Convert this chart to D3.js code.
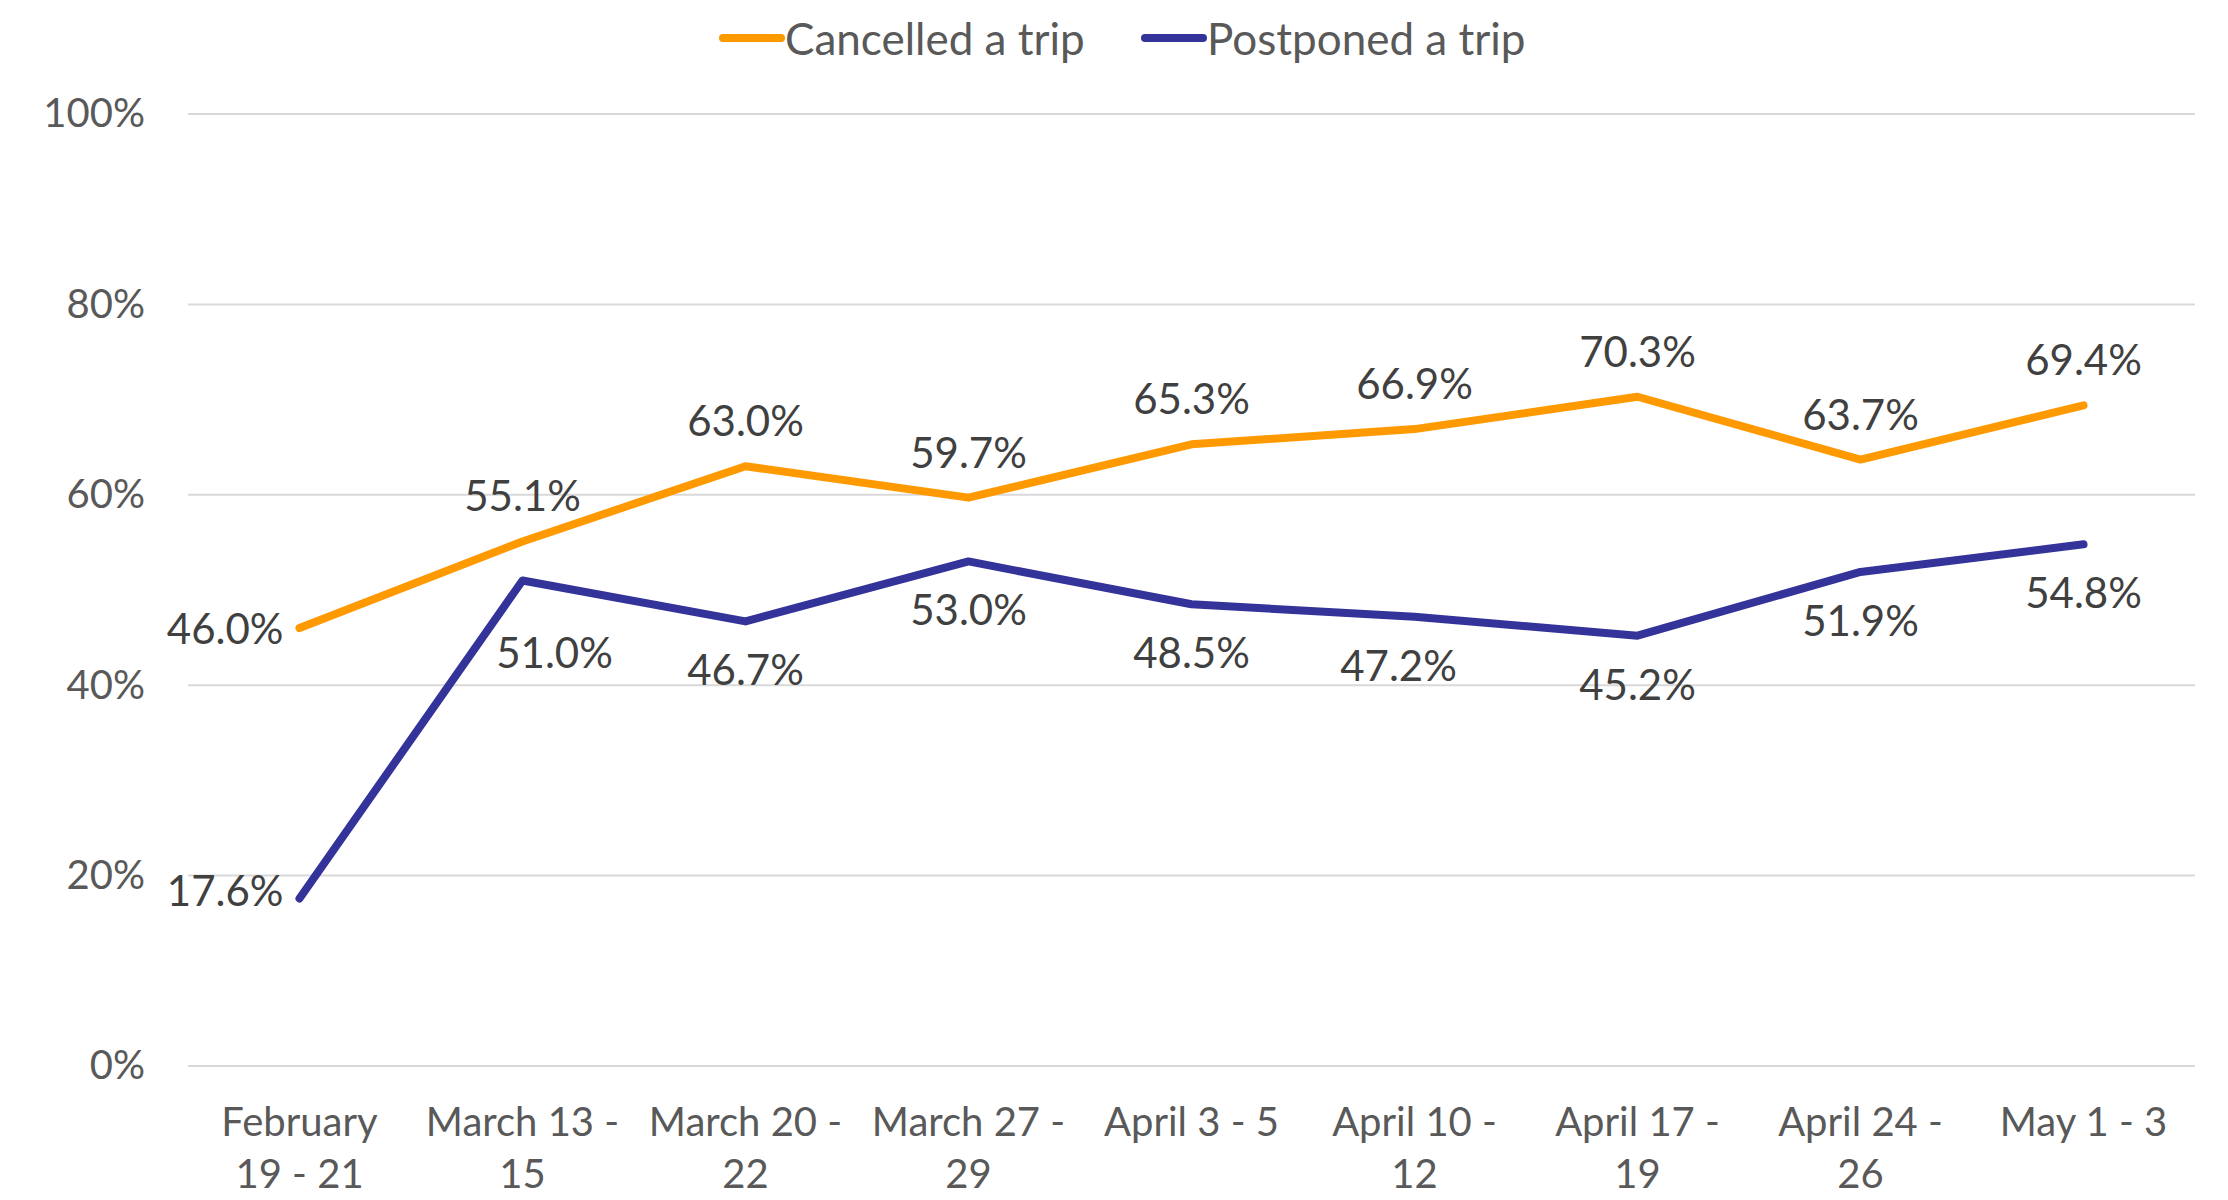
<!DOCTYPE html>
<html>
<head>
<meta charset="utf-8">
<script src="https://cdn.jsdelivr.net/npm/d3@7"></script>
<style>
  html, body { margin: 0; padding: 0; background: #fff; }
  svg { display: block; font-family: Lato, "Open Sans", sans-serif; }
</style>
</head>
<body>
<svg id="chart" width="2228" height="1200"></svg>
<script>
// ---- Data ----
const categories = [
  "February\n19 - 21",
  "March 13 -\n15",
  "March 20 -\n22",
  "March 27 -\n29",
  "April 3 - 5",
  "April 10 -\n12",
  "April 17 -\n19",
  "April 24 -\n26",
  "May 1 - 3"
];
const cancelled = [46.0, 55.1, 63.0, 59.7, 65.3, 66.9, 70.3, 63.7, 69.4];
const postponed = [17.6, 51.0, 46.7, 53.0, 48.5, 47.2, 45.2, 51.9, 54.8];
const yTicks = [0, 20, 40, 60, 80, 100];
const seriesNames = ["Cancelled a trip", "Postponed a trip"];

// ---- Layout ----
const W = 2228, H = 1200;
const margin = { left: 188, right: 33, top: 114, bottom: 134 };
const colors = ["#FF9900", "#333399"];

const svg = d3.select("#chart");
const x = d3.scaleBand().domain(categories).range([margin.left, W - margin.right]);
const y = d3.scaleLinear().domain([0, 100]).range([H - margin.bottom, margin.top]);
const cx = c => x(c) + x.bandwidth() / 2;

// gridlines
svg.append("g").selectAll("line").data(yTicks).join("line")
  .attr("x1", margin.left).attr("x2", W - margin.right)
  .attr("y1", d => y(d)).attr("y2", d => y(d))
  .attr("stroke", "#D9D9D9").attr("stroke-width", 2);

// y axis labels
const yAxis = d3.axisLeft(y).tickValues(yTicks).tickFormat(d => d + "%").tickSize(0).tickPadding(0);
const yg = svg.append("g").attr("transform", `translate(${margin.left - 43},0)`).call(yAxis);
yg.select(".domain").remove();
yg.selectAll("text").attr("fill", "#595959").style("font-size", "40px").style("font-family", "Lato, sans-serif");

// x axis labels
const xAxis = d3.axisBottom(x).tickSize(0).tickPadding(0).tickFormat(() => "");
const xg = svg.append("g").attr("transform", `translate(0,${H - margin.bottom})`).call(xAxis);
xg.select(".domain").remove();
xg.selectAll(".tick text").each(function(d) {
  const t = d3.select(this).attr("y", 0).attr("dy", null)
    .attr("fill", "#595959").style("font-size", "40px").style("font-family", "Lato, sans-serif")
    .attr("text-anchor", "middle");
  d.split("\n").forEach((line, i) => {
    t.append("tspan").attr("x", 0).attr("y", 70 + i * 52).text(line);
  });
});

// lines
const series = [cancelled, postponed];
const line = d3.line().x((d, i) => cx(categories[i])).y(d => y(d));
series.forEach((s, k) => {
  svg.append("path").datum(s).attr("d", line)
    .attr("fill", "none").attr("stroke", colors[k]).attr("stroke-width", 8)
    .attr("stroke-linejoin", "round").attr("stroke-linecap", "round");
});

// data labels
const fmt = d => d.toFixed(1) + "%";
const lblStyle = sel => sel.attr("fill", "#404040").style("font-size", "42px").style("font-family", "Lato, sans-serif");
// Cancelled: first label on the left, rest above
svg.append("g").selectAll("text").data(cancelled).join("text")
  .attr("x", (d, i) => i === 0 ? cx(categories[i]) - 16 : cx(categories[i]))
  .attr("y", (d, i) => i === 0 ? y(d) : y(d) - 46)
  .attr("text-anchor", (d, i) => i === 0 ? "end" : "middle")
  .attr("dominant-baseline", "central")
  .text(fmt).call(lblStyle);
// Postponed: first label on the left, rest below
const pNudge = { 1: [32, 24], 5: [-16, 0] };
svg.append("g").selectAll("text").data(postponed).join("text")
  .attr("x", (d, i) => i === 0 ? cx(categories[i]) - 16 : cx(categories[i]) + (pNudge[i] ? pNudge[i][0] : 0))
  .attr("y", (d, i) => i === 0 ? y(d) - 8 : y(d) + 48 + (pNudge[i] ? pNudge[i][1] : 0))
  .attr("text-anchor", (d, i) => i === 0 ? "end" : "middle")
  .attr("dominant-baseline", "central")
  .text(fmt).call(lblStyle);

// legend
const legendX = [723, 1145];
const lg = svg.append("g");
seriesNames.forEach((name, k) => {
  lg.append("line").attr("x1", legendX[k]).attr("x2", legendX[k] + 58)
    .attr("y1", 38).attr("y2", 38)
    .attr("stroke", colors[k]).attr("stroke-width", 8).attr("stroke-linecap", "round");
  lg.append("text").attr("x", legendX[k] + 62).attr("y", 38)
    .attr("dominant-baseline", "central")
    .attr("fill", "#595959").style("font-size", "44px").style("font-family", "Lato, sans-serif")
    .text(name);
});
</script>
</body>
</html>
